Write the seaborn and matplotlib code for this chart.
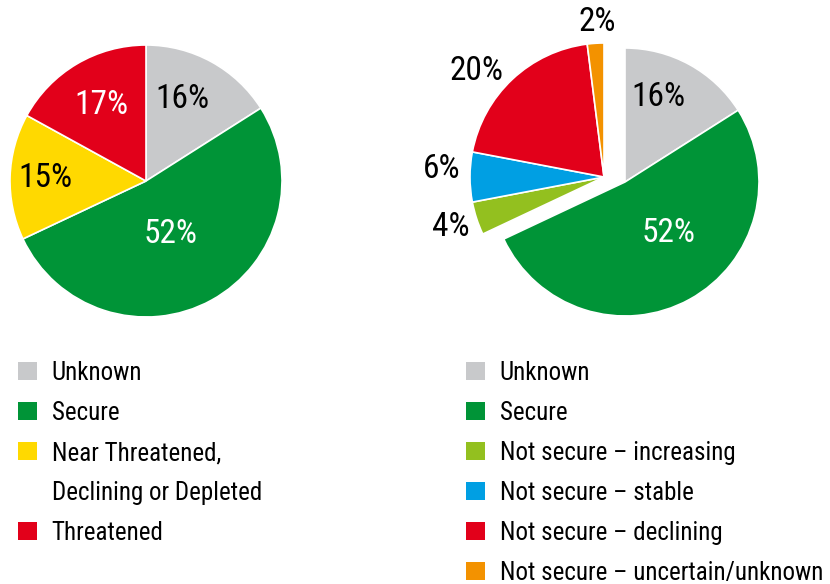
import numpy as np
import matplotlib.pyplot as plt
import seaborn as sns
from matplotlib.patches import Patch

# left pie: stock status
left_labels = ['Unknown', 'Secure', 'Near Threatened,', 'Declining or Depleted', 'Threatened']
left_values = [16, 52, 15, 17]
left_colors = ['#c8c9cb', '#009437', '#ffd900', '#e2001a']
left_pct_colors = ['black', 'white', 'black', 'white']

# right pie: security of the stocks
right_labels = ['Unknown', 'Secure', 'Not secure \u2013 increasing', 'Not secure \u2013 stable',
                'Not secure \u2013 declining', 'Not secure \u2013 uncertain/unknown']
right_values = [16, 52, 4, 6, 20, 2]
right_colors = ['#c8c9cb', '#009437', '#93c01f', '#009fe3', '#e2001a', '#f39200']
right_pct_colors = ['black', 'white', 'black', 'black', 'black', 'black']

sns.set_theme(style='white')
plt.rcParams['font.family'] = ['Liberation Sans Narrow', 'Roboto Condensed', 'Lato', 'DejaVu Sans']
plt.rcParams['text.color'] = 'black'

W, H = 830, 584
fig = plt.figure(figsize=(W / 100, H / 100), dpi=100)
ax = fig.add_axes([0, 0, 1, 1])

wp = dict(edgecolor='white', linewidth=1.2)

# pixel coords (y measured from top) -> data coords (y up)
def px(x, y):
    return (x, H - y)

# label placement: (radial distance as fraction of radius, angle nudge in degrees)
def put_labels(wedges, values, colors, place, radius):
    for w, v, c, (d, da) in zip(wedges, values, colors, place):
        th = np.deg2rad((w.theta1 + w.theta2) / 2 + da)
        cx, cy = w.center
        ax.text(cx + d * radius * np.cos(th), cy + d * radius * np.sin(th), f'{v}%',
                ha='center', va='center', fontsize=24, color=c)

# left pie
r_left = 136
wl, _ = ax.pie(left_values, colors=left_colors, startangle=90, counterclock=False,
               center=px(146, 181), radius=r_left, wedgeprops=wp, frame=True)
put_labels(wl, left_values, left_pct_colors,
           [(0.66, 5), (0.43, -4), (0.74, 0), (0.65, 0)], r_left)

# right pie, not-secure slices pulled out as one block
r_right = 134
wr, _ = ax.pie(right_values, colors=right_colors, startangle=90, counterclock=False,
               center=px(625, 182), radius=r_right, wedgeprops=wp, frame=True)
shift = np.array([-21, 5])
for w in wr[2:]:
    w.set_center(tuple(np.array(w.center) + shift))
put_labels(wr, right_values, right_pct_colors,
           [(0.68, 7), (0.5, 12), (1.2, 0), (1.21, -3), (1.24, 7), (1.16, -1)], r_right)

ax.set_xlim(0, W)
ax.set_ylim(0, H)
ax.set_aspect('equal')
ax.axis('off')

# legends
def make_legend(labels, colors, x, y):
    handles = []
    ci = 0
    for lab in labels:
        if lab.startswith('Declining'):
            handles.append(Patch(facecolor='none', edgecolor='none', label=lab))
        else:
            handles.append(Patch(facecolor=colors[ci], edgecolor='none', label=lab))
            ci += 1
    leg = ax.legend(handles=handles, loc='upper left', bbox_to_anchor=(x / W, 1 - y / H),
                    frameon=False, fontsize=18, handlelength=0.75, handleheight=0.75,
                    handletextpad=0.6, labelspacing=0.64, borderpad=0, borderaxespad=0,
                    labelcolor='black')
    return leg

leg1 = make_legend(left_labels, left_colors, 18, 361)
ax.add_artist(leg1)
make_legend(right_labels, right_colors, 466, 361)

fig.savefig('out.png', dpi=100)
